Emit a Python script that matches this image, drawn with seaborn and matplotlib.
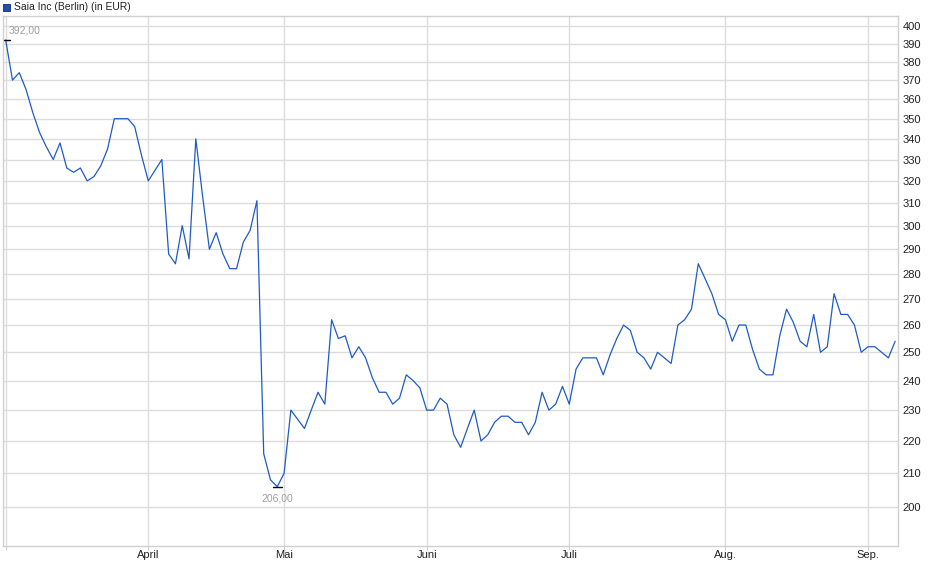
import numpy as np
import pandas as pd
import seaborn as sns
import matplotlib.pyplot as plt
from matplotlib.ticker import FixedLocator, NullLocator, FixedFormatter

# daily closes (EUR), one per trading day
prices = [
    392, 370, 374, 365, 353, 343, 336, 330, 338, 326,
    324, 326, 320, 322, 327, 335, 350, 350, 350, 346,
    332, 320, 325, 330, 288, 284, 300, 286, 340, 313,
    290, 297, 288, 282, 282, 293, 298, 311, 216, 208,
    206, 210, 230, 227, 224, 230, 236, 232, 262, 255,
    256, 248, 252, 248, 241, 236, 236, 232, 234, 242,
    240, 237.5, 230, 230, 234, 232, 222, 218, 224, 230,
    220, 222, 226, 228, 228, 226, 226, 222, 226, 236,
    230, 232, 238, 232, 244, 248, 248, 248, 242, 249,
    255, 260, 258, 250, 248, 244, 250, 248, 246, 260,
    262, 266, 284, 278, 272, 264, 262, 254, 260, 260,
    251, 244, 242, 242, 256, 266, 261, 254, 252, 264,
    250, 252, 272, 264, 264, 260, 250, 252, 252, 250,
    248, 254,
]
month_pos = [0, 21, 41, 62, 83, 106, 127]
month_labels = ["", "April", "Mai", "Juni", "Juli", "Aug.", "Sep."]
y_ticks = list(range(200, 401, 10))

df = pd.DataFrame({"day": np.arange(len(prices)), "price": prices})

sns.set_style("white")
plt.rcParams["font.family"] = ["Liberation Sans", "DejaVu Sans"]

fig = plt.figure(figsize=(9.4, 5.79), dpi=100)
ax = fig.add_axes([2.7 / 940, 1 - 545.7 / 579, (898.3 - 2.7) / 940, (545.7 - 16) / 579])

sns.lineplot(data=df, x="day", y="price", ax=ax, color="#1f5bc6", linewidth=0.9)

ax.set_yscale("log")
ax.set_ylim(189.2, 405.8)
ax.set_xlim(-0.44, 131.46)

ax.yaxis.set_major_locator(FixedLocator(y_ticks))
ax.yaxis.set_major_formatter(FixedFormatter([str(t) for t in y_ticks]))
ax.yaxis.set_minor_locator(NullLocator())
ax.yaxis.tick_right()
ax.xaxis.set_major_locator(FixedLocator(month_pos))
ax.xaxis.set_major_formatter(FixedFormatter(month_labels))
ax.xaxis.set_minor_locator(NullLocator())

ax.grid(True, color="#dcdcdc", linewidth=1)
for s in ax.spines.values():
    s.set_color("#d0d0d0")
    s.set_linewidth(1)
ax.tick_params(axis="y", which="major", length=0, labelsize=8,
               labelcolor="#222222", pad=3, right=True, left=False)
ax.tick_params(axis="x", which="major", length=3, color="#d0d0d0", labelsize=8,
               labelcolor="#222222", pad=0, bottom=True)
ax.set_xlabel("")
ax.set_ylabel("")

# max / min markers
imax = int(np.argmax(prices))
imin = int(np.argmin(prices))
ax.plot([imax - 0.4, imax + 0.6], [prices[imax]] * 2, color="black", lw=1)
ax.plot([imin - 0.7, imin + 0.7], [prices[imin]] * 2, color="black", lw=1)
ax.annotate(f"{prices[imax]:.2f}".replace(".", ","), (imax, prices[imax]),
            xytext=(2, 3), textcoords="offset points", fontsize=7.5,
            color="#a0a0a0", ha="left", va="bottom")
ax.annotate(f"{prices[imin]:.2f}".replace(".", ","), (imin, prices[imin]),
            xytext=(0, -5), textcoords="offset points", fontsize=7.5,
            color="#a0a0a0", ha="center", va="top")

# legend header
fig.patches.append(plt.Rectangle((3 / 940, 1 - 11 / 579), 7 / 940, 7 / 579,
                                 transform=fig.transFigure, facecolor="#1f4fb4",
                                 edgecolor="#1a2a60", linewidth=0.6))
fig.text(14 / 940, 1 - 7 / 579, "Saia Inc (Berlin) (in EUR)", fontsize=7.5,
         color="#222222", va="center", ha="left")

fig.savefig("out.png", dpi=100)
